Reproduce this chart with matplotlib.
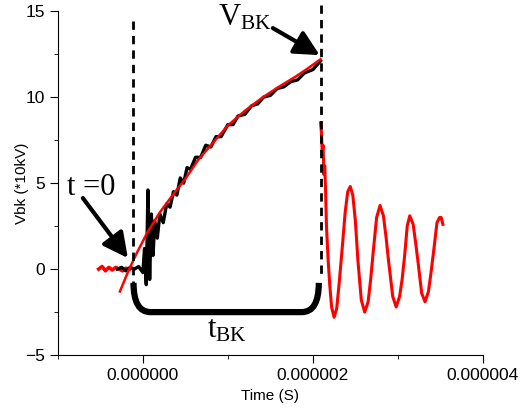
import numpy as np
import matplotlib.pyplot as plt
from matplotlib.path import Path
from matplotlib.patches import PathPatch
from matplotlib.ticker import MultipleLocator, FormatStrFormatter

# measured voltage before breakdown (time in microseconds, Vbk in *10kV)
t_meas = [-0.30, -0.25, -0.20, -0.15, -0.10, -0.05, 0.00, 0.02, 0.04, 0.06, 0.08,
          0.10, 0.12, 0.14, 0.17, 0.20, 0.24, 0.28, 0.32, 0.36, 0.40, 0.44, 0.48,
          0.52, 0.56, 0.62, 0.68, 0.74, 0.80, 0.86, 0.92, 1.00, 1.06, 1.12, 1.20,
          1.28, 1.35, 1.42, 1.50, 1.58, 1.66, 1.74, 1.82, 1.90, 2.00, 2.09]
v_meas = [0.0, 0.1, -0.1, 0.1, 0.0, 0.15, -0.2, 1.2, -0.9, 4.6, -0.6,
          3.2, 0.8, 2.8, 1.8, 3.2, 2.7, 3.8, 3.6, 4.5, 4.3, 5.3, 5.0,
          5.9, 5.8, 6.5, 6.5, 7.2, 7.1, 7.7, 7.7, 8.4, 8.4, 8.9, 9.0,
          9.5, 9.6, 10.0, 10.1, 10.5, 10.6, 10.9, 11.0, 11.4, 11.6, 12.1]

# fitted curve
t_fit = [-0.27, -0.17, -0.07, 0.05, 0.20, 0.35, 0.50, 0.65, 0.80, 1.00, 1.20,
         1.40, 1.60, 1.80, 1.95, 2.09]
v_fit = [-1.3, -0.1, 0.95, 2.1, 3.3, 4.3, 5.25, 6.35, 7.2, 8.35, 9.2,
         9.95, 10.6, 11.2, 11.7, 12.2]

# red trace: baseline before trigger
t_base = [-0.52, -0.48, -0.44, -0.40, -0.36, -0.32, -0.28, -0.24, -0.20, -0.16]
v_base = [0.0, 0.15, -0.1, 0.1, -0.05, 0.1, 0.0, -0.1, 0.05, 0.0]

# red trace: oscillation after breakdown
t_osc = [2.09, 2.10, 2.11, 2.12, 2.13, 2.14, 2.15, 2.16, 2.18, 2.20, 2.22, 2.25,
         2.28, 2.31, 2.35, 2.38, 2.41, 2.44, 2.47, 2.50, 2.53, 2.57, 2.61, 2.65,
         2.68, 2.71, 2.75, 2.79, 2.83, 2.86, 2.89, 2.94, 2.98, 3.02, 3.05, 3.08,
         3.11, 3.14, 3.18, 3.21, 3.24, 3.28, 3.32, 3.36, 3.39, 3.42, 3.46, 3.49, 3.51, 3.53]
v_osc = [8.5, 8.0, 6.8, 7.2, 5.5, 6.0, 4.5, 2.5, 0.5, -1.0, -2.2, -2.8,
         -2.3, -0.8, 1.5, 3.3, 4.5, 4.8, 4.3, 2.8, 0.5, -1.8, -2.5, -1.9,
         -0.6, 1.0, 3.0, 3.7, 3.1, 1.9, 0.5, -1.6, -2.2, -1.6, -0.6, 0.8,
         2.5, 3.1, 2.6, 1.5, 0.3, -1.4, -1.9, -1.3, -0.2, 1.0, 2.7, 3.0, 3.0, 2.6]

t_start = -0.12   # t = 0 marker line
t_bk = 2.09       # breakdown time

us = 1e-6

fig = plt.figure(figsize=(5.26, 4.11), dpi=100)
ax = fig.add_axes([0.110, 0.136, 0.808, 0.837])

ax.plot(np.array(t_base) * us, v_base, color='red', lw=2.6)
ax.plot(np.array(t_meas) * us, v_meas, color='black', lw=2.4)
ax.plot(np.array(t_fit) * us, v_fit, color='red', lw=1.8)
ax.plot(np.array(t_osc) * us, v_osc, color='red', lw=2.2)

# dashed markers
ax.plot([t_start * us, t_start * us], [14.4, -0.8], color='black', lw=2,
        ls=(0, (3, 2.2)), clip_on=False)
ax.plot([t_bk * us, t_bk * us], [15.35, -0.6], color='black', lw=2,
        ls=(0, (3, 2.2)), clip_on=False)

# bracket for t_BK
x0, x1 = t_start * us + 0.01 * us, t_bk * us - 0.02 * us
yt, yb = -0.8, -2.5
r = 0.2 * us
verts = [(x0, yt), (x0, yb), (x0 + r, yb), (x1 - r, yb), (x1, yb), (x1, yt)]
codes = [Path.MOVETO, Path.CURVE3, Path.CURVE3, Path.LINETO, Path.CURVE3, Path.CURVE3]
ax.add_patch(PathPatch(Path(verts, codes), fill=False, lw=4.5, color='black',
                       capstyle='butt'))

serif = 'Liberation Serif'
ax.text(0.75 * us, -3.95, r'$\mathregular{t_{BK}}$', family=serif, fontsize=22,
        ha='left', va='baseline')
ax.text(-0.89 * us, 4.3, 't =0', family=serif, fontsize=22,
        ha='left', va='baseline')
ax.text(0.88 * us, 14.19, r'$\mathregular{V_{BK}}$', family=serif, fontsize=22,
        ha='left', va='baseline')

arrow = dict(arrowstyle='-|>,head_length=0.75,head_width=0.38', color='black',
             lw=3, shrinkA=0, shrinkB=0, mutation_scale=20)
ax.annotate('', xy=(-0.176 * us, 0.64), xytext=(-0.706 * us, 4.13), arrowprops=arrow)
ax.annotate('', xy=(2.08 * us, 12.44), xytext=(1.53 * us, 14.01), arrowprops=arrow)

ax.set_xlim(-1 * us, 4 * us)
ax.set_ylim(-5, 15)
ax.xaxis.set_major_locator(MultipleLocator(2 * us))
ax.xaxis.set_minor_locator(MultipleLocator(1 * us))
ax.xaxis.set_major_formatter(FormatStrFormatter('%.6f'))
ax.yaxis.set_major_locator(MultipleLocator(5))
ax.yaxis.set_minor_locator(MultipleLocator(2.5))
for s in ['top', 'right']:
    ax.spines[s].set_visible(False)
ax.tick_params(which='major', length=6, labelsize=12.5)
ax.tick_params(which='minor', length=3)
for lab in ax.get_xticklabels() + ax.get_yticklabels():
    lab.set_family('Liberation Sans')
ax.set_xlabel('Time (S)', family='Liberation Sans', fontsize=11, labelpad=4)
ax.set_ylabel('Vbk (*10kV)', family='Liberation Sans', fontsize=11, labelpad=-3)

fig.savefig('out.png', dpi=100)
